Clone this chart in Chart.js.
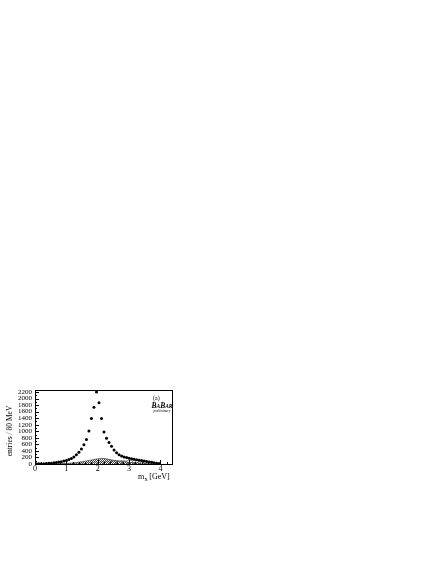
<!DOCTYPE html>
<html>
<head>
<meta charset="utf-8">
<script src="https://cdn.jsdelivr.net/npm/chart.js@4.4.1/dist/chart.umd.min.js"></script>
<style>
html,body{margin:0;padding:0;background:#fff}
canvas{display:block}
</style>
</head>
<body>
<canvas id="c" width="442" height="572"></canvas>
<script>
// m_X bins, 80 MeV wide, 0 .. 4 GeV
const binWidth = 0.08
const binCenters = Array.from({length:50}, (_,i)=>Number((0.04 + i*binWidth).toFixed(2)))

// data points (entries / 80 MeV)
const entries = [
  5,6,8,11,15,20,26,35,45,58,72,90,
  110,135,165,215,280,360,460,590,750,1010,1390,1730,2200,
  1870,1390,980,790,660,540,430,340,285,245,215,195,
  175,160,145,130,118,105,92,78,64,50,37,24,12
]
// dense hatched background
const bkgA = [
  0,0,0,0,2,3,4,6,8,10,13,16,
  20,25,30,37,45,55,66,78,92,106,120,135,150,
  162,170,166,155,140,125,110,96,84,74,66,58,
  52,46,40,35,30,26,22,18,14,10,7,4,2
]
// lighter hatched background
const bkgB = [
  0,0,0,0,0,0,0,0,0,0,2,4,
  6,8,10,13,16,20,24,28,33,38,43,48,54,
  60,66,72,78,84,89,94,98,102,105,108,110,
  111,112,112,111,108,104,98,90,80,66,50,32,14
]
const xTicks = [0,1,2,3,4]
const yTicks = [0,200,400,600,800,1000,1200,1400,1600,1800,2000,2200]

const serif = '"Liberation Serif", "DejaVu Serif", serif'

function hatch(spacing, color, width){
  const c = document.createElement('canvas')
  c.width = spacing; c.height = spacing
  const g = c.getContext('2d')
  g.strokeStyle = color
  g.lineWidth = width
  g.beginPath()
  g.moveTo(0,spacing); g.lineTo(spacing,0)
  g.moveTo(-1,1); g.lineTo(1,-1)
  g.moveTo(spacing-1,spacing+1); g.lineTo(spacing+1,spacing-1)
  g.stroke()
  return g.createPattern(c,'repeat')
}

// histogram outline from bin edges
function histo(vals){
  const out = []
  vals.forEach((v,i)=>{
    const lo = binCenters[i]-binWidth/2, hi = binCenters[i]+binWidth/2
    out.push({x:lo,y:v},{x:hi,y:v})
  })
  return out
}

const decor = {
  id:'decor',
  afterDraw(chart){
    const {ctx, chartArea:a, scales:{x,y}} = chart
    ctx.save()
    ctx.strokeStyle = '#000'
    ctx.lineWidth = 1
    ctx.strokeRect(a.left+0.5, a.top+0.5, a.right-a.left-1, a.bottom-a.top)
    ctx.beginPath()
    for(let v=0; v<4.3; v+=0.2){
      const px = Math.round(x.getPixelForValue(v))+0.5
      const len = Math.abs(v-Math.round(v))<1e-6 ? 4 : 2
      ctx.moveTo(px,a.bottom); ctx.lineTo(px,a.bottom-len)
    }
    for(let v=0; v<=2260; v+=100){
      const py = Math.round(y.getPixelForValue(v))+0.5
      const len = v%200===0 ? 4 : 2
      ctx.moveTo(a.left,py); ctx.lineTo(a.left+len,py)
    }
    ctx.stroke()

    ctx.fillStyle = '#000'
    // y title
    ctx.save()
    ctx.translate(10,(a.top+a.bottom)/2+4)
    ctx.rotate(-Math.PI/2)
    ctx.font = '7.5px '+serif
    ctx.textAlign = 'center'
    ctx.textBaseline = 'middle'
    ctx.fillText('entries / 80 MeV',0,0)
    ctx.restore()
    // x title with subscript
    ctx.textBaseline = 'alphabetic'
    ctx.textAlign = 'left'
    let tx = 138, ty = 479
    ctx.font = '8px '+serif
    ctx.fillText('m',tx,ty); tx += ctx.measureText('m').width
    ctx.font = '5px '+serif
    ctx.fillText('X',tx,ty+1.5); tx += ctx.measureText('X').width+1.5
    ctx.font = '8px '+serif
    ctx.fillText('[GeV]',tx,ty)
    // label and logo
    ctx.font = '6px '+serif
    ctx.fillText('(a)',153,400)
    let bx = 151.5, by = 408
    const parts = [['B',7.5],['A',5.5],['B',7.5],['AR',5.5]]
    parts.forEach(([t,s])=>{
      ctx.font = 'italic bold '+s+'px '+serif
      ctx.fillText(t,bx,by)
      bx += ctx.measureText(t).width
    })
    ctx.font = 'italic 3.6px '+serif
    ctx.fillText('preliminary',153.5,412)
    ctx.restore()
  }
}

new Chart(document.getElementById('c'),{
  type:'scatter',
  data:{
    datasets:[
      {
        type:'line', data:histo(bkgB), order:3,
        borderColor:'#666', borderWidth:0.5, pointRadius:0,
        fill:'origin', backgroundColor:hatch(3,'#666',0.9), tension:0
      },
      {
        type:'line', data:histo(bkgA), order:2,
        borderColor:'#333', borderWidth:0.6, pointRadius:0,
        fill:'origin', backgroundColor:hatch(2,'#444',1), tension:0
      },
      {
        data:binCenters.map((c,i)=>({x:c,y:entries[i]})), order:1,
        pointRadius:1.5, pointBackgroundColor:'#000', pointBorderWidth:0,
        showLine:false
      }
    ]
  },
  options:{
    responsive:false,
    animation:false,
    devicePixelRatio:1,
    layout:{padding:{left:0,top:390,right:269,bottom:0}},
    plugins:{legend:{display:false},tooltip:{enabled:false}},
    scales:{
      x:{
        type:'linear', min:0, max:4.4,
        afterFit:s=>{s.height = 572-464},
        afterBuildTicks:s=>{s.ticks = xTicks.map(v=>({value:v}))},
        grid:{display:false,drawTicks:false,tickLength:0}, border:{display:false},
        ticks:{font:{family:serif,size:8},color:'#000',padding:0,maxRotation:0,autoSkip:false,
          callback:v=>String(v)}
      },
      y:{
        type:'linear', min:0, max:2260,
        afterFit:s=>{s.width = 35},
        afterBuildTicks:s=>{s.ticks = yTicks.map(v=>({value:v}))},
        grid:{display:false,drawTicks:false,tickLength:0}, border:{display:false},
        ticks:{font:{family:serif,size:7},color:'#000',padding:3,autoSkip:false,
          callback:v=>String(v)}
      }
    }
  },
  plugins:[decor]
})
</script>
</body>
</html>
